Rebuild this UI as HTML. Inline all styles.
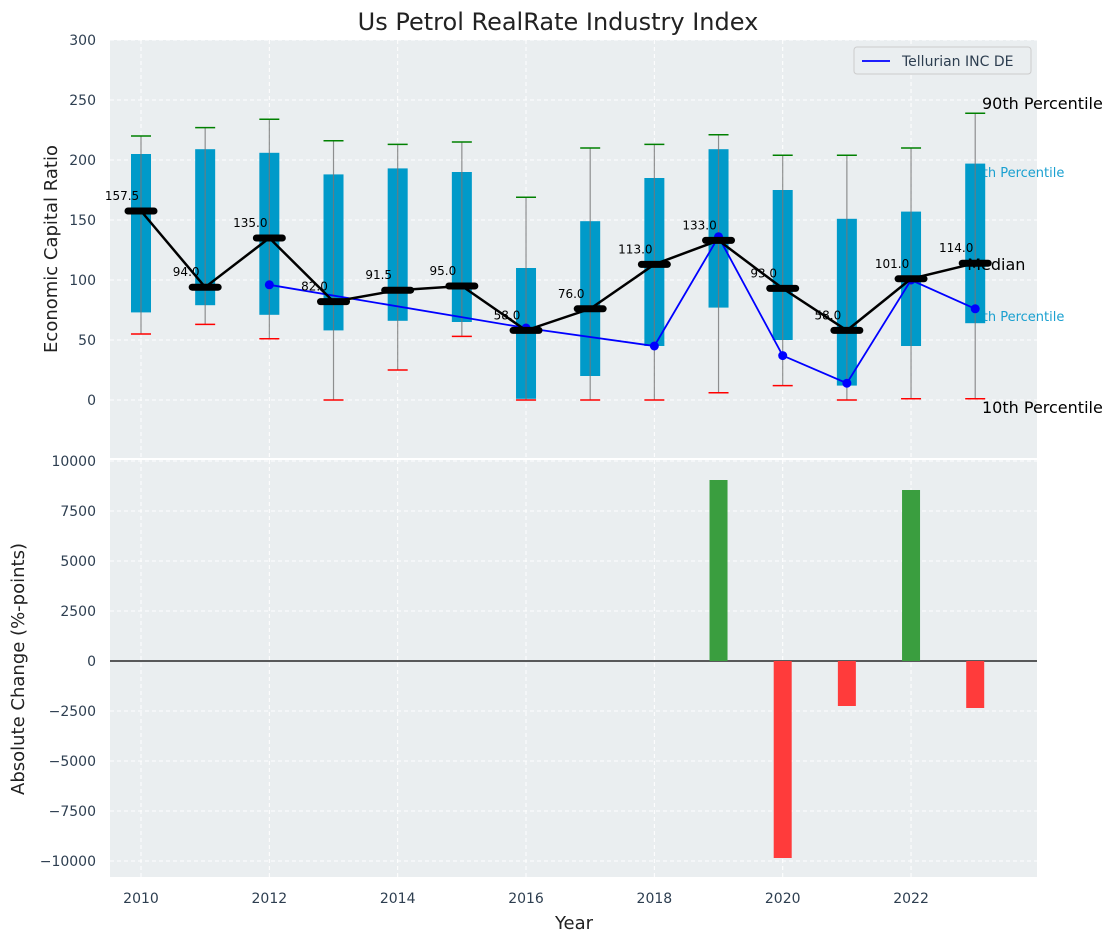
<!DOCTYPE html>
<html><head><meta charset="utf-8"><style>
body{margin:0;background:#fff;font-family:"Liberation Sans","DejaVu Sans",sans-serif}
svg text{font-family:"DejaVu Sans","Liberation Sans",sans-serif}
</style></head><body>
<svg id="c" width="1117" height="942"></svg>
<script>
const years=[2010,2011,2012,2013,2014,2015,2016,2017,2018,2019,2020,2021,2022,2023];
const boxLow=[73,79,71,58,66,65,1,20,45,77,50,12,45,64];
const boxHigh=[205,209,206,188,193,190,110,149,185,209,175,151,157,197];
const whiskLow=[55,63,51,0,25,53,0,0,0,6,12,0,1,1];
const whiskHigh=[220,227,234,216,213,215,169,210,213,221,204,204,210,239];
const medians=[157.5,94,135,82,91.5,95,58,76,113,133,93,58,101,114];
const blueYears=[2012,2016,2018,2019,2020,2021,2022,2023];
const blueVals=[96,60,45,136,37,14,100,76];
const changeYears=[2019,2020,2021,2022,2023];
const changeVals=[9050,-9850,-2250,8550,-2350];
const topTicks=[0,50,100,150,200,250,300];
const botTicks=[-10000,-7500,-5000,-2500,0,2500,5000,7500,10000];
const xTicks=[2010,2012,2014,2016,2018,2020,2022];

const L=110,R=1037,T1=40,B1=458,T2=460,B2=877;
const X=y=>141+(y-2010)*64.17;
const Y1=v=>400-1.2*v;
const Y2=v=>661-0.02*v;
const s=document.getElementById('c');const NS='http://www.w3.org/2000/svg';
function el(t,a,txt){const e=document.createElementNS(NS,t);for(const k in a)e.setAttribute(k,a[k]);if(txt!=null)e.textContent=txt;s.appendChild(e);return e;}

let e;
e=el('rect',{x:L,y:T1,width:R-L,height:B1-T1,fill:'#eaeef0'});

e=el('rect',{x:L,y:T2,width:R-L,height:B2-T2,fill:'#eaeef0'});

xTicks.forEach(t=>{[[T1,B1],[T2,B2]].forEach(([a,b])=>{e=el('line',{x1:X(t),x2:X(t),y1:a,y2:b,stroke:'#fff','stroke-dasharray':'4,3','stroke-width':1});});});
topTicks.forEach(t=>{e=el('line',{x1:L,x2:R,y1:Y1(t),y2:Y1(t),stroke:'#fff','stroke-dasharray':'4,3'});
 e=el('text',{x:L-14,y:Y1(t)+5,'text-anchor':'end','font-size':14,fill:'#2d3e50'},t);});
botTicks.forEach(t=>{e=el('line',{x1:L,x2:R,y1:Y2(t),y2:Y2(t),stroke:'#fff','stroke-dasharray':'4,3'});
 e=el('text',{x:L-14,y:Y2(t)+5,'text-anchor':'end','font-size':14,fill:'#2d3e50'},t<0?'\u2212'+(-t):t);});
xTicks.forEach(t=>{e=el('text',{x:X(t),y:903,'text-anchor':'middle','font-size':14,fill:'#2d3e50'},t);});

const lx=X(2023);
e=el('text',{x:lx-9,y:Y1(190)+5,'font-size':13,fill:'#1aa0d0'},'75th Percentile');
e=el('text',{x:lx-9,y:Y1(70)+5,'font-size':13,fill:'#1aa0d0'},'25th Percentile');

years.forEach((y,i)=>{
 const x=X(y);
 e=el('rect',{x:x-10,y:Y1(boxHigh[i]),width:20,height:Y1(boxLow[i])-Y1(boxHigh[i]),fill:'#009ac9'});
 e=el('line',{x1:x,x2:x,y1:Y1(whiskLow[i]),y2:Y1(whiskHigh[i]),stroke:'#777','stroke-width':1.2,opacity:0.8});
 e=el('line',{x1:x-10,x2:x+10,y1:Y1(whiskHigh[i]),y2:Y1(whiskHigh[i]),stroke:'green','stroke-width':1.5});
 e=el('line',{x1:x-10,x2:x+10,y1:Y1(whiskLow[i]),y2:Y1(whiskLow[i]),stroke:'red','stroke-width':1.5});
});
e=el('polyline',{points:blueYears.map((y,i)=>X(y)+','+Y1(blueVals[i])).join(' '),fill:'none',stroke:'blue','stroke-width':1.8});
blueYears.forEach((y,i)=>{e=el('circle',{cx:X(y),cy:Y1(blueVals[i]),r:4.5,fill:'blue'});});
e=el('polyline',{points:years.map((y,i)=>X(y)+','+Y1(medians[i])).join(' '),fill:'none',stroke:'#000','stroke-width':2.5});
years.forEach((y,i)=>{const x=X(y);
 e=el('line',{x1:x-13,x2:x+13,y1:Y1(medians[i]),y2:Y1(medians[i]),stroke:'#000','stroke-width':7,'stroke-linecap':'round'});
 e=el('text',{x:x-19,y:Y1(medians[i])-11,'text-anchor':'middle','font-size':12,fill:'#000'},medians[i].toFixed(1));
});
e=el('text',{x:lx-8,y:Y1(114)+7,'font-size':16,fill:'#000'},'Median');
e=el('text',{x:982,y:109,'font-size':16,fill:'#000'},'90th Percentile');
e=el('text',{x:982,y:413,'font-size':16,fill:'#000'},'10th Percentile');

e=el('rect',{x:854,y:47,width:177,height:27,rx:3,fill:'#eaeef0',stroke:'#ccc'});
e=el('line',{x1:862,x2:890,y1:61,y2:61,stroke:'blue','stroke-width':1.8});
e=el('text',{x:902,y:66,'font-size':14,fill:'#2d3e50'},'Tellurian INC DE');

e=el('line',{x1:L,x2:R,y1:Y2(0),y2:Y2(0),stroke:'#000','stroke-width':1.2});
changeYears.forEach((y,i)=>{const v=changeVals[i];
 e=el('rect',{x:X(y)-9,y:Math.min(Y2(v),Y2(0)),width:18,height:Math.abs(Y2(v)-Y2(0)),fill:v>=0?'#3a9e3f':'#ff3b3b'});});

e=el('text',{x:558,y:30,'text-anchor':'middle','font-size':24,fill:'#222'},'Us Petrol RealRate Industry Index');
e=el('text',{x:574,y:929,'text-anchor':'middle','font-size':18,fill:'#222'},'Year');
e=el('text',{x:0,y:0,'text-anchor':'middle','font-size':18,fill:'#222',transform:'translate(57,249) rotate(-90)'},'Economic Capital Ratio');
e=el('text',{x:0,y:0,'text-anchor':'middle','font-size':18,fill:'#222',transform:'translate(24,669) rotate(-90)'},'Absolute Change (%-points)');
</script>
</body></html>
